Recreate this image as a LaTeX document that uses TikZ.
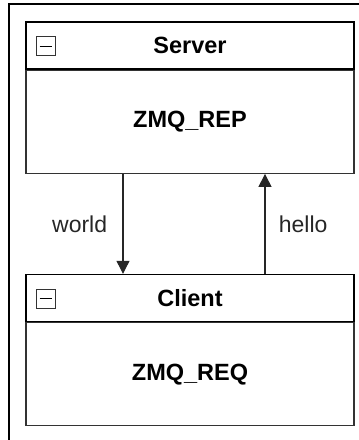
\documentclass[tikz,border=0pt]{standalone}
\usepackage{fontspec}
\setmainfont{Liberation Sans}
\usetikzlibrary{positioning, arrows.meta}

\begin{document}
\begin{tikzpicture}[x=1pt, y=-1pt,
    % Styles
    header/.style={draw=black, line width=1.4pt, minimum width=328pt, minimum height=47pt, inner sep=0pt, font=\fontsize{23.5}{27}\selectfont\bfseries},
    body/.style={draw=black!80, line width=1.2pt, minimum width=328pt, minimum height=103pt, inner sep=0pt, font=\fontsize{23.5}{27}\selectfont\bfseries},
    collapse/.style={draw=black!80, line width=0.9pt, minimum size=19pt, inner sep=0pt},
    msg-arrow/.style={-{Triangle[length=13pt, width=13pt]}, line width=1.1pt, black!85},
    msg/.style={font=\fontsize{23}{27}\selectfont},
]

% Canvas
\useasboundingbox (0,0) rectangle (359,440);
\draw[line width=1.3pt] (9,440) -- (9,4) -- (359,4);

% Server
\node[header] (srvhead) at (190,45.5) {Server};
\node[body, below=0pt of srvhead] (srvbody) {ZMQ\_REP};
\node[collapse] (srvicon) at (46,46) {};
\draw[line width=1pt] (srvicon.west) ++(3.5pt,0) -- ([xshift=-3.5pt]srvicon.east);

% Client
\node[header] (clihead) at (190,298) {Client};
\node[body, below=0pt of clihead] (clibody) {ZMQ\_REQ};
\node[collapse] (cliicon) at (46,298.5) {};
\draw[line width=1pt] (cliicon.west) ++(3.5pt,0) -- ([xshift=-3.5pt]cliicon.east);

% Messages
\draw[msg-arrow] ([xshift=-67pt]srvbody.south) -- ([xshift=-67pt]clihead.north)
    node[msg, midway, left=12pt] (world) {world};
\draw[msg-arrow] ([xshift=75pt]clihead.north) -- ([xshift=75pt]srvbody.south)
    node[msg, midway, right=10pt] (hello) {hello};

\end{tikzpicture}
\end{document}
